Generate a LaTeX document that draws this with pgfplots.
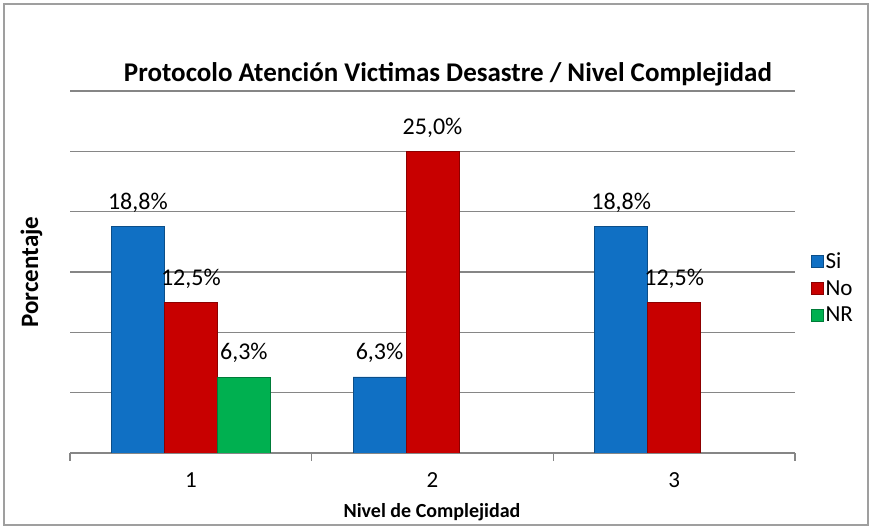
\documentclass[border=0pt]{standalone}
\usepackage{fontspec}
\setmainfont{Carlito}
\usepackage{pgfplots}
\pgfplotsset{compat=1.18}
\definecolor{siblue}{RGB}{16,112,196}
\definecolor{nored}{RGB}{200,0,0}
\definecolor{nrgreen}{RGB}{0,176,80}
\definecolor{gridgray}{RGB}{134,134,134}
\begin{document}
\begin{tikzpicture}
\useasboundingbox (0pt,0pt) rectangle (872pt,529pt);
\draw[gray!75, line width=1.3pt] (4pt,4pt) rectangle (868pt,525pt);
\node[anchor=base, font=\fontsize{27}{27}\selectfont\bfseries] at (448pt,447pt) {Protocolo Atención Victimas Desastre / Nivel Complejidad};
\node[anchor=base, font=\fontsize{20}{20}\selectfont\bfseries] at (432pt,11pt) {Nivel de Complejidad};
\node[rotate=90, anchor=base, font=\fontsize{25}{25}\selectfont\bfseries] at (38pt,257pt) {Porcentaje};
\begin{axis}[
  at={(70pt,76pt)}, anchor=south west,
  scale only axis, width=725pt, height=362pt,
  ybar=0pt, bar width=53pt,
  xmin=-0.5, xmax=2.5, ymin=0, ymax=30,
  axis lines*=left,
  x axis line style={draw=gridgray, line width=1.2pt},
  y axis line style={draw=none},
  ytick={0,5,...,30}, yticklabels={}, ytick style={draw=none},
  ymajorgrids, grid style={draw=gridgray, line width=1.1pt},
  xtick={0,1,2}, xticklabels={1,2,3}, xtick style={draw=none},
  extra x ticks={-0.5,0.5,1.5,2.5}, extra x tick labels={},
  extra x tick style={tick align=outside, major tick length=8pt, xtick style={draw=gridgray, line width=1.1pt}, grid=none},
  xticklabel style={font=\fontsize{23}{23}\selectfont, anchor=base, yshift=-30pt},
  point meta=explicit symbolic,
  nodes near coords,
  every node near coord/.append style={font=\fontsize{24}{24}\selectfont, anchor=base, yshift=17pt},
  legend style={at={(1.022,0.456)}, anchor=west, draw=none, fill=none, font=\fontsize{23}{23}\selectfont, row sep=6pt, inner sep=0pt},
  legend cell align=left,
  legend image code/.code={\fill[#1] (0pt,-6pt) rectangle (12pt,6pt);},
]
\addplot[fill=siblue, draw=siblue!70!black] coordinates {(0,18.8) [18,8\%] (1,6.3) [6,3\%] (2,18.8) [18,8\%]};
\addplot[fill=nored, draw=nored!70!black] coordinates {(0,12.5) [12,5\%] (1,25.0) [25,0\%] (2,12.5) [12,5\%]};
\addplot[fill=nrgreen, draw=nrgreen!70!black] coordinates {(0,6.3) [6,3\%]};
\legend{Si,No,NR}
\end{axis}
\end{tikzpicture}
\end{document}
